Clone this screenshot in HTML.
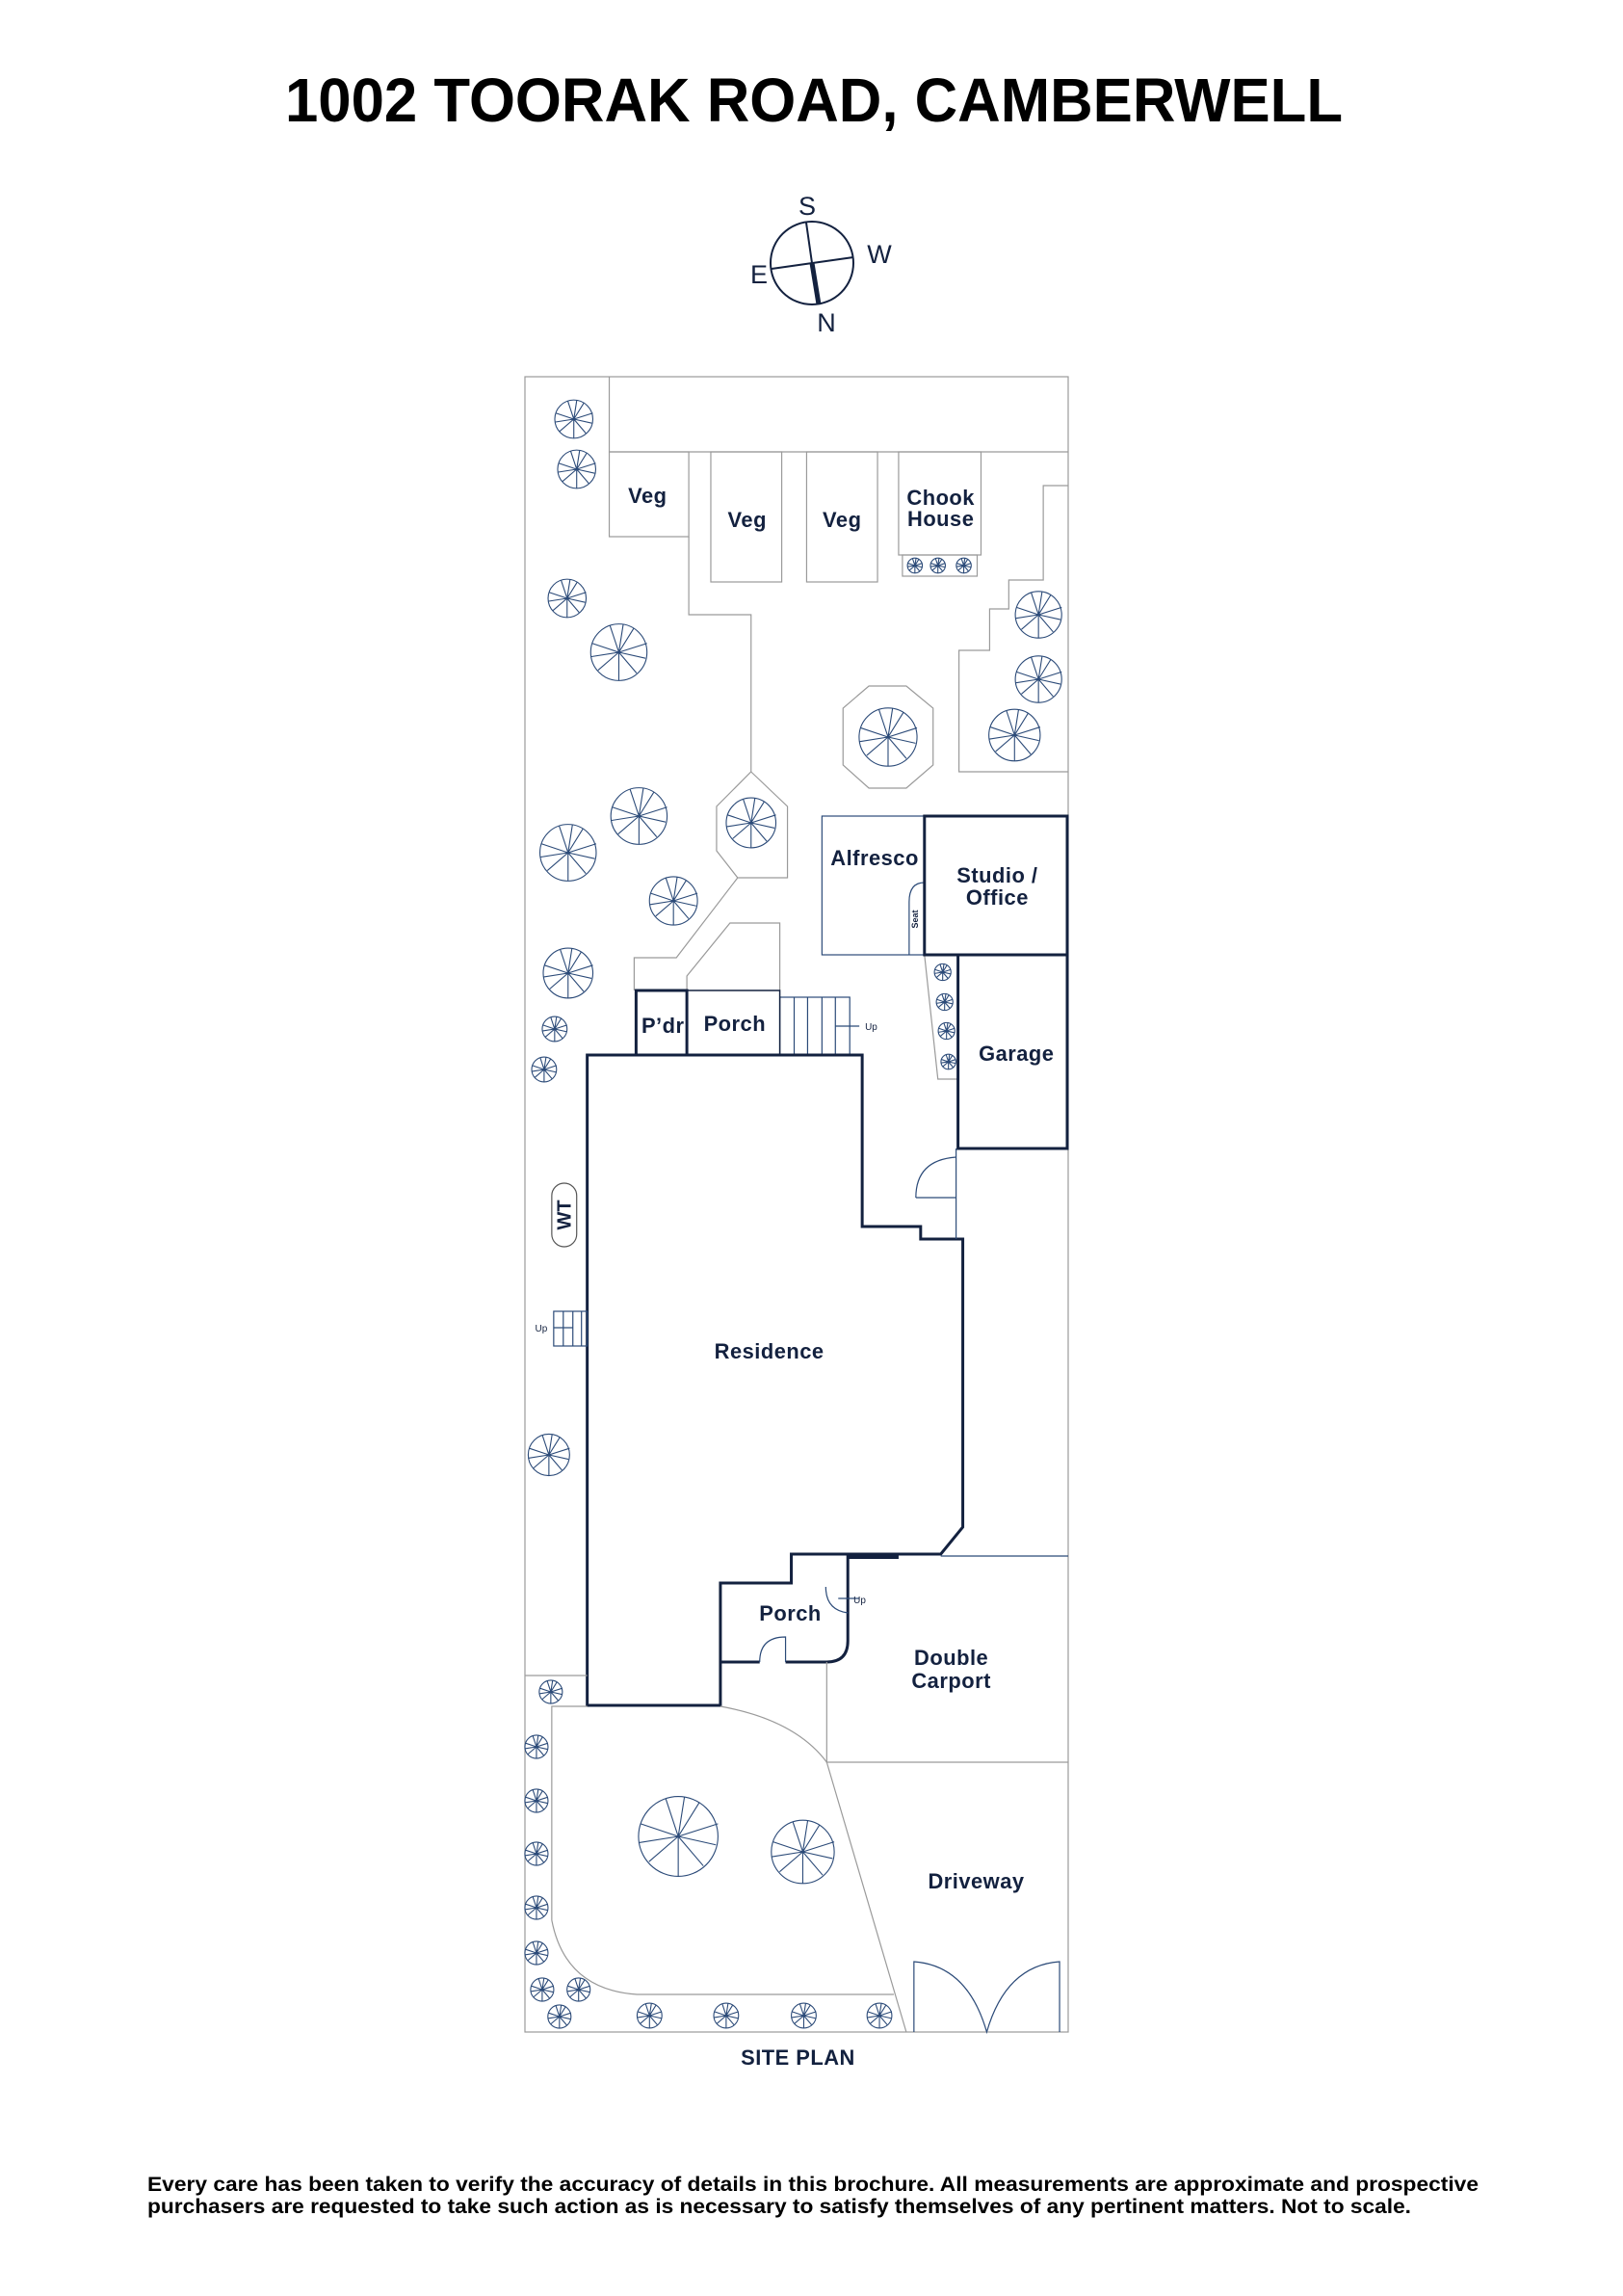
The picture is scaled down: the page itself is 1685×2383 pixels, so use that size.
<!DOCTYPE html>
<html><head><meta charset="utf-8"><style>
html,body{margin:0;padding:0;background:#fff}
svg{display:block}
.l{font-family:"Liberation Sans",sans-serif;font-weight:bold;fill:#13213f;font-size:22px;text-anchor:middle;letter-spacing:0.5px}
.g{fill:none;stroke:#9a9a9a;stroke-width:1.2}
.b{fill:none;stroke:#2b4a78;stroke-width:1.2}
.w{fill:none;stroke:#13213f;stroke-width:3}
</style></head><body>
<svg width="1685" height="2383" viewBox="0 0 1685 2383" xmlns="http://www.w3.org/2000/svg">
<defs>
<symbol id="t" viewBox="-1.1 -1.1 2.2 2.2">
<g fill="none" stroke="#2b4a78" stroke-width="1.1" vector-effect="non-scaling-stroke">
<circle r="0.95" vector-effect="non-scaling-stroke"/>
<path vector-effect="non-scaling-stroke" d="M0 0L0.9 0.2M0 0L0.5 -0.8M0 0L-0.3 -0.9M0 0L-0.9 -0.3M0 0L-0.7 0.6M0 0L0 0.95M0 0L0.6 0.7M0 0L0.95 -0.3M0 0L-0.95 0.15M0 0L0.15 -0.95"/>
</g>
</symbol>
</defs>

<text x="845" y="126" font-family="Liberation Sans, sans-serif" font-weight="bold" font-size="64" text-anchor="middle" textLength="1098" lengthAdjust="spacingAndGlyphs" fill="#000">1002 TOORAK ROAD, CAMBERWELL</text>

<!-- compass -->
<circle cx="843" cy="273" r="43" fill="none" stroke="#13213f" stroke-width="2"/>
<line x1="837" y1="231" x2="843" y2="273" stroke="#13213f" stroke-width="2"/>
<line x1="843" y1="273" x2="850" y2="316" stroke="#13213f" stroke-width="5"/>
<line x1="801" y1="279" x2="886" y2="267" stroke="#13213f" stroke-width="2"/>
<g font-family="Liberation Sans, sans-serif" font-size="27" fill="#13213f" text-anchor="middle">
<text x="838" y="223">S</text><text x="913" y="273">W</text><text x="788" y="294">E</text><text x="858" y="344">N</text>
</g>

<g transform="translate(545,0) scale(0.9947,1) translate(-548,0)">
<!-- site outline -->
<rect x="548" y="391" width="567" height="1718" class="g"/>
<polyline class="g" points="636,391 636,469 1115,469"/>
<rect x="636" y="469" width="83" height="88" class="g"/>
<rect x="742" y="469" width="74" height="135" class="g"/>
<rect x="842" y="469" width="74" height="135" class="g"/>
<rect x="938" y="469" width="86" height="107" class="g"/>
<rect x="942" y="576" width="78" height="22" class="g"/>
<polyline class="g" points="719,557 719,638 784,638 784,801"/>
<polygon class="g" points="784,801 822,837 822,911 770,911 748,883 748,837"/>
<polyline class="g" points="770,911 706,994 662,994 662,1028"/>
<polyline class="g" points="717,1028 717,1013 762,958 814,958 814,1028"/>
<polyline class="g" points="1115,504 1089,504 1089,602 1053,602 1053,632 1033,632 1033,675 1001,675 1001,801 1115,801"/>
<polygon class="g" points="907,712 946,712 974,735 974,794 946,818 907,818 880,794 880,735"/>
<rect x="858" y="847" width="107" height="144" class="b"/>
<path class="b" d="M965,916 Q949,916 949,936 L949,991"/>
<text x="958" y="954" font-family="Liberation Sans,sans-serif" font-size="9" font-weight="bold" fill="#13213f" transform="rotate(-90 958 954)" text-anchor="middle">Seat</text>
<polyline class="g" points="965,991 979,1120 1000,1120"/>
<!-- steps top -->
<rect x="814" y="1035" width="73" height="60" class="b"/>
<path class="b" d="M829,1035V1095M843,1035V1095M858,1035V1095M872,1035V1095M872,1065H897"/>
<text x="903" y="1069" font-family="Liberation Sans,sans-serif" font-size="10" fill="#13213f">Up</text>

<!-- buildings -->
<rect x="965" y="847" width="149" height="144" class="w"/>
<rect x="1000" y="991" width="114" height="201" class="w"/>
<rect x="664" y="1028" width="53" height="67" class="w"/>
<rect x="717" y="1028" width="97" height="67" class="w" style="stroke-width:1.5"/>
<path class="w" d="M613,1095 H900 V1273 H961 V1286 H1005 V1585 L982,1613 H826 V1643 H752 V1770 H613 Z"/>
<line x1="885" y1="1615" x2="938" y2="1615" stroke="#13213f" stroke-width="6"/>
<path class="w" d="M885,1613 V1703 Q885,1725 863,1725 H820 M793,1725 H752"/>
<path class="b" d="M793,1725 Q793,1699 820,1699 V1725"/>
<path class="b" d="M862,1647 Q862,1671 885,1674 M875,1659 H897"/>
<text x="891" y="1664" font-family="Liberation Sans,sans-serif" font-size="10" fill="#13213f">Up</text>
<line x1="998" y1="1192" x2="998" y2="1286" class="b"/>
<path class="b" d="M956,1243 Q956,1204 998,1201 M956,1243 H998"/>

<!-- WT & left steps -->
<rect x="576" y="1228" width="26" height="66" rx="13" class="g" style="stroke:#555"/>
<text x="589" y="1261" font-family="Liberation Sans,sans-serif" font-size="20" font-weight="bold" fill="#13213f" text-anchor="middle" transform="rotate(-90 589 1261)" dy="7">WT</text>
<rect x="578" y="1361" width="35" height="36" class="b"/>
<path class="b" d="M588,1361V1397M598,1361V1397M607,1361V1397M578,1378H598"/>
<text x="565" y="1382" font-family="Liberation Sans,sans-serif" font-size="10" fill="#13213f" text-anchor="middle">Up</text>

<!-- lower garden -->
<line x1="548" y1="1739" x2="613" y2="1739" class="g"/>
<path class="g" d="M613,1771 H576 V1993 Q590,2065 665,2070 H933"/>
<path class="g" d="M752,1771 Q830,1785 863,1829 L946,2109"/>
<polyline class="g" points="863,1725 863,1829 1115,1829"/>
<line x1="982" y1="1615" x2="1115" y2="1615" class="b"/>
<path class="b" d="M954,2109 V2036 Q1010,2040 1030,2109 Q1050,2040 1106,2036 V2109"/>

<!-- trees -->
<g>
<use href="#t" x="576" y="412" width="46" height="46"/>
<use href="#t" x="579" y="464" width="46" height="46"/>
<use href="#t" x="569" y="598" width="46" height="46"/>
<use href="#t" x="612" y="643" width="68" height="68"/>
<use href="#t" x="633" y="813" width="68" height="68"/>
<use href="#t" x="559" y="851" width="68" height="68"/>
<use href="#t" x="674" y="906" width="58" height="58"/>
<use href="#t" x="563" y="980" width="60" height="60"/>
<use href="#t" x="564" y="1053" width="30" height="30"/>
<use href="#t" x="553" y="1095" width="30" height="30"/>
<use href="#t" x="754" y="824" width="60" height="60"/>
<use href="#t" x="892" y="730" width="70" height="70"/>
<use href="#t" x="1056" y="610" width="56" height="56"/>
<use href="#t" x="1056" y="677" width="56" height="56"/>
<use href="#t" x="1028" y="732" width="62" height="62"/>
<use href="#t" x="946" y="578" width="18" height="18"/>
<use href="#t" x="970" y="578" width="18" height="18"/>
<use href="#t" x="997" y="578" width="18" height="18"/>
<use href="#t" x="974" y="999" width="20" height="20"/>
<use href="#t" x="976" y="1030" width="20" height="20"/>
<use href="#t" x="978" y="1060" width="20" height="20"/>
<use href="#t" x="981" y="1093" width="18" height="18"/>
<use href="#t" x="548" y="1485" width="50" height="50"/>
<use href="#t" x="561" y="1742" width="28" height="28"/>
<use href="#t" x="546" y="1799" width="28" height="28"/>
<use href="#t" x="546" y="1855" width="28" height="28"/>
<use href="#t" x="546" y="1910" width="28" height="28"/>
<use href="#t" x="546" y="1966" width="28" height="28"/>
<use href="#t" x="546" y="2013" width="28" height="28"/>
<use href="#t" x="552" y="2051" width="28" height="28"/>
<use href="#t" x="590" y="2051" width="28" height="28"/>
<use href="#t" x="570" y="2079" width="28" height="28"/>
<use href="#t" x="663" y="2077" width="30" height="30"/>
<use href="#t" x="743" y="2077" width="30" height="30"/>
<use href="#t" x="824" y="2077" width="30" height="30"/>
<use href="#t" x="903" y="2077" width="30" height="30"/>
<use href="#t" x="660" y="1858" width="96" height="96"/>
<use href="#t" x="800" y="1884" width="76" height="76"/>
</g>

<!-- labels -->
<text class="l" x="676" y="522">Veg</text>
<text class="l" x="780" y="547">Veg</text>
<text class="l" x="879" y="547">Veg</text>
<text class="l" x="982" y="524">Chook</text>
<text class="l" x="982" y="546">House</text>
<text class="l" x="913" y="898">Alfresco</text>
<text class="l" x="1041" y="916">Studio /</text>
<text class="l" x="1041" y="939">Office</text>
<text class="l" x="692" y="1072">P’dr</text>
<text class="l" x="767" y="1070">Porch</text>
<text class="l" x="1061" y="1101">Garage</text>
<text class="l" x="803" y="1410">Residence</text>
<text class="l" x="825" y="1682">Porch</text>
<text class="l" x="993" y="1728">Double</text>
<text class="l" x="993" y="1752">Carport</text>
<text class="l" x="1019" y="1960">Driveway</text>
<text class="l" x="833" y="2143">SITE PLAN</text>
</g>

<g font-family="Liberation Sans, sans-serif" font-weight="bold" font-size="21" fill="#000">
<text x="153" y="2274" textLength="1382" lengthAdjust="spacingAndGlyphs">Every care has been taken to verify the accuracy of details in this brochure. All measurements are approximate and prospective</text>
<text x="153" y="2297" textLength="1312" lengthAdjust="spacingAndGlyphs">purchasers are requested to take such action as is necessary to satisfy themselves of any pertinent matters. Not to scale.</text>
</g>
</svg>
</body></html>
